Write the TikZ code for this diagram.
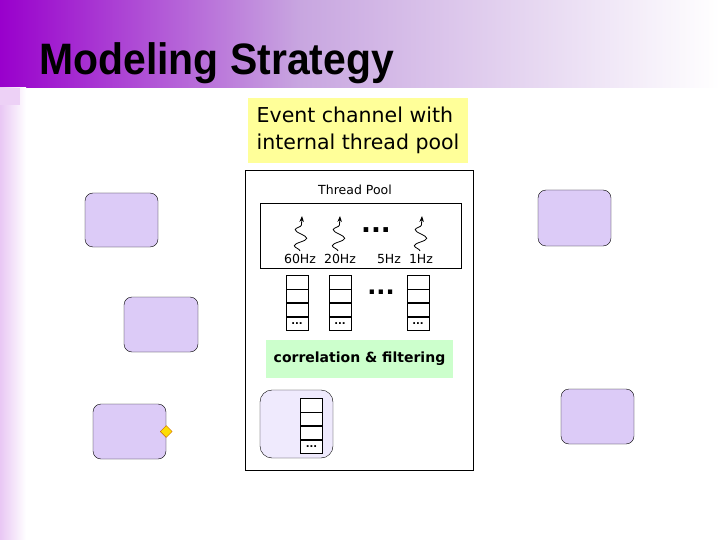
\documentclass[tikz,border=0pt]{standalone}
\usepackage{fontspec}
\setmainfont{DejaVu Sans}
\newfontfamily\titlefont{Liberation Sans}
\usetikzlibrary{shapes.geometric,decorations.pathmorphing,arrows.meta}
\definecolor{lav}{HTML}{DCCBF7}
\definecolor{lavl}{HTML}{EFEAFD}
\definecolor{hdr}{HTML}{9900CC}
\definecolor{hdrm}{HTML}{C8A6E0}
\definecolor{yel}{HTML}{FFFF99}
\definecolor{grn}{HTML}{CCFFCC}
\tikzset{
 comp/.style={draw,fill=lav,rounded corners=8pt},
 cell/.style={draw,fill=white,minimum width=22pt,minimum height=13.5pt,inner sep=0pt,font=\bfseries\fontsize{10}{10}\selectfont},
 thr/.style={draw,thick,decorate,decoration={snake,amplitude=6pt,segment length=16pt,post length=3pt},-{Stealth[length=6pt]}},
 sm/.style={font=\fontsize{12.5}{13}\selectfont}
}
\newcommand{\myqueue}[3]{%
 \node[cell,anchor=north] (#1a) at (#2,#3) {};
 \node[cell,anchor=north] (#1b) at (#1a.south) {};
 \node[cell,anchor=north] (#1c) at (#1b.south) {};
 \node[cell,anchor=north] (#1d) at (#1c.south) {...};}
\begin{document}
\begin{tikzpicture}[x=1pt,y=-1pt]
\useasboundingbox (0,0) rectangle (720,540);
\shade[left color=hdr,right color=hdrm] (0,0) rectangle (300,88);
\shade[left color=hdrm,right color=white] (300,0) rectangle (720,88);
\shade[left color=hdr!22,right color=white] (0,88) rectangle (26,540);
\fill[hdr!18] (0,88) rectangle (20,105);
\node[anchor=west,font=\titlefont\bfseries\fontsize{44}{46}\selectfont,xscale=0.93] (title) at (36,63) {Modeling Strategy};
\node[fill=yel,minimum width=220pt,minimum height=65pt,align=left,font=\fontsize{20.5}{27}\selectfont] (ec) at (358,130.5) {Event channel with\\internal thread pool};
\node[draw,minimum width=228pt,minimum height=300pt] (frame) at (359,320) {};
\node[sm] (tp) at (355,190) {Thread Pool};
\node[draw,minimum width=201pt,minimum height=65pt] (pool) at (360.5,235.5) {};
\draw[thr] (300,251) -- (302,216);
\draw[thr] (338,251) -- (340,216);
\draw[thr] (420,251) -- (422,216);
\node[font=\bfseries\fontsize{26}{26}\selectfont] (d1) at (376,230) {...};
\node[sm] (h1) at (300,259) {60Hz};
\node[sm] (h2) at (340,259) {20Hz};
\node[sm] (h3) at (389,259) {5Hz};
\node[sm] (h4) at (421,259) {1Hz};
\myqueue{q1}{297}{275}
\myqueue{q2}{340}{275}
\myqueue{q3}{418}{275}
\node[font=\bfseries\fontsize{24}{24}\selectfont] (d2) at (381,292) {...};
\node[fill=grn,minimum width=187pt,minimum height=38pt,font=\bfseries\fontsize{14}{14}\selectfont] (cf) at (359.5,359) {correlation \& filtering};
\node[draw,fill=lavl,rounded corners=12pt,minimum width=73pt,minimum height=68pt] (inner) at (296.5,424) {};
\myqueue{q4}{311.5}{398}
\node[comp,minimum width=73pt,minimum height=54pt] (c1) at (121.5,220) {};
\node[comp,minimum width=74pt,minimum height=55pt] (c2) at (161,324.5) {};
\node[comp,minimum width=73pt,minimum height=55pt] (c3) at (129.5,431.5) {};
\node[comp,minimum width=73pt,minimum height=56pt] (c4) at (574.5,218) {};
\node[comp,minimum width=73pt,minimum height=55pt] (c5) at (597.5,416.5) {};
\node[diamond,draw=orange!80!black,fill=yellow!80!orange,minimum size=12pt,inner sep=0pt] (port) at (c3.east) {};
\end{tikzpicture}
\end{document}
